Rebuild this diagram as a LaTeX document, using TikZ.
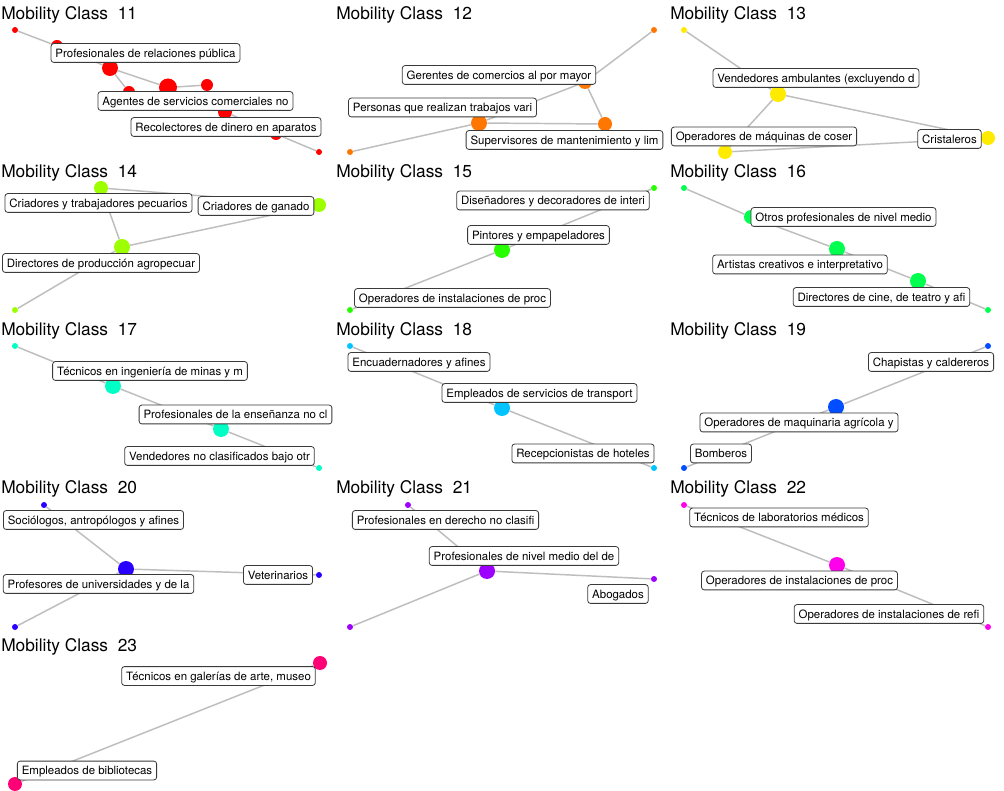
\documentclass[tikz,border=0pt]{standalone}
\usepackage{fontspec}
\setmainfont{TeX Gyre Heros}
\definecolor{c11}{HTML}{FF0000}
\definecolor{c12}{HTML}{FF7600}
\definecolor{c13}{HTML}{FFEB00}
\definecolor{c14}{HTML}{9DFF00}
\definecolor{c15}{HTML}{27FF00}
\definecolor{c16}{HTML}{00FF4E}
\definecolor{c17}{HTML}{00FFC4}
\definecolor{c18}{HTML}{00C4FF}
\definecolor{c19}{HTML}{004EFF}
\definecolor{c20}{HTML}{2700FF}
\definecolor{c21}{HTML}{9D00FF}
\definecolor{c22}{HTML}{FF00EB}
\definecolor{c23}{HTML}{FF0076}
\definecolor{edgec}{HTML}{BEBEBE}
\definecolor{lblb}{HTML}{3A3A3A}
\tikzset{
  dot/.style={circle, fill=#1, draw=none, inner sep=0pt},
  s3/.style={minimum size=4.5pt},
  s6/.style={minimum size=9pt},
  s7/.style={minimum size=10.5pt},
  s8/.style={minimum size=12pt},
  s9/.style={minimum size=13.5pt},
  lnk/.style={draw=edgec, line width=1.1pt},
  lbl/.style={draw=lblb, fill=white, rounded corners=2pt, line width=0.6pt,
    font=\fontsize{8.6}{10}\selectfont, text height=7.4pt, text depth=0.7pt,
    inner xsep=3.3pt, inner ysep=3pt},
  ttl/.style={anchor=base west, inner sep=0pt, font=\fontsize{13}{15}\selectfont}
}
\begin{document}
\begin{tikzpicture}[x=0.75pt,y=-0.75pt]
\useasboundingbox (0,0) rectangle (1004,791);
\fill[white] (0,0) rectangle (1004,791);
% titles
\node[ttl] (t11) at (1,20) {Mobility Class\ \ 11};
\node[ttl] (t12) at (336,20) {Mobility Class\ \ 12};
\node[ttl] (t13) at (670,20) {Mobility Class\ \ 13};
\node[ttl] (t14) at (1,178) {Mobility Class\ \ 14};
\node[ttl] (t15) at (336,178) {Mobility Class\ \ 15};
\node[ttl] (t16) at (670,178) {Mobility Class\ \ 16};
\node[ttl] (t17) at (1,336) {Mobility Class\ \ 17};
\node[ttl] (t18) at (336,336) {Mobility Class\ \ 18};
\node[ttl] (t19) at (670,336) {Mobility Class\ \ 19};
\node[ttl] (t20) at (1,494) {Mobility Class\ \ 20};
\node[ttl] (t21) at (336,494) {Mobility Class\ \ 21};
\node[ttl] (t22) at (670,494) {Mobility Class\ \ 22};
\node[ttl] (t23) at (1,652) {Mobility Class\ \ 23};
% ---- dots
% 11
\node[dot=c11,s3] (a1) at (15,30) {};
\node[dot=c11,s6] (a2) at (57,46) {};
\node[dot=c11,s8] (a3) at (110,68) {};
\node[dot=c11,s6] (a4) at (129,92) {};
\node[dot=c11,s9] (a5) at (168,87.5) {};
\node[dot=c11,s6] (a6) at (207,85) {};
\node[dot=c11,s7] (a7) at (225,112) {};
\node[dot=c11,s6] (a8) at (276,134) {};
\node[dot=c11,s3] (a9) at (319,152) {};
% 12
\node[dot=c12,s3] (b1) at (654,30) {};
\node[dot=c12,s7] (b2) at (585,82) {};
\node[dot=c12,s8] (b3) at (479,123) {};
\node[dot=c12,s7] (b4) at (605,124) {};
\node[dot=c12,s3] (b5) at (350,152) {};
% 13
\node[dot=c13,s3] (c1) at (684,30) {};
\node[dot=c13,s8] (c2) at (778,94) {};
\node[dot=c13,s7] (c3) at (725,152) {};
\node[dot=c13,s7] (c4) at (988,138) {};
% 14
\node[dot=c14,s7] (d1) at (101,188) {};
\node[dot=c14,s7] (d2) at (319,205) {};
\node[dot=c14,s8] (d3) at (122,247) {};
\node[dot=c14,s3] (d4) at (15,310) {};
% 15
\node[dot=c15,s3] (e1) at (654,188) {};
\node[dot=c15,s8] (e2) at (502,250) {};
\node[dot=c15,s3] (e3) at (350,310) {};
% 16
\node[dot=c16,s3] (f1) at (684,188) {};
\node[dot=c16,s7] (f2) at (751,217) {};
\node[dot=c16,s8] (f3) at (837,249) {};
\node[dot=c16,s8] (f4) at (918,281) {};
\node[dot=c16,s3] (f5) at (988,310) {};
% 17
\node[dot=c17,s3] (g1) at (15,346) {};
\node[dot=c17,s8] (g2) at (113,386) {};
\node[dot=c17,s8] (g3) at (221,429) {};
\node[dot=c17,s3] (g4) at (319,468) {};
% 18
\node[dot=c18,s3] (h1) at (350,346) {};
\node[dot=c18,s8] (h2) at (502,408) {};
\node[dot=c18,s3] (h3) at (654,468) {};
% 19
\node[dot=c19,s3] (i1) at (988,346) {};
\node[dot=c19,s8] (i2) at (836,407) {};
\node[dot=c19,s3] (i3) at (684,468) {};
% 20
\node[dot=c20,s3] (j1) at (44,505) {};
\node[dot=c20,s8] (j2) at (126,569) {};
\node[dot=c20,s3] (j3) at (319,575) {};
\node[dot=c20,s3] (j4) at (15,627) {};
% 21
\node[dot=c21,s3] (k1) at (408,505) {};
\node[dot=c21,s8] (k2) at (487,571) {};
\node[dot=c21,s3] (k3) at (654,579) {};
\node[dot=c21,s3] (k4) at (350,627) {};
% 22
\node[dot=c22,s3] (m1) at (684,505) {};
\node[dot=c22,s8] (m2) at (837,565) {};
\node[dot=c22,s3] (m3) at (988,627) {};
% 23
\node[dot=c23,s7] (n1) at (320,663) {};
\node[dot=c23,s7] (n2) at (15,784) {};
% ---- edges
\draw[lnk] (a1) -- (a2);
\draw[lnk] (a2) -- (a3);
\draw[lnk] (a3) -- (a5);
\draw[lnk] (a5) -- (a6);
\draw[lnk] (a3) -- (a4);
\draw[lnk] (a5) -- (a7);
\draw[lnk] (a7) -- (a8);
\draw[lnk] (a8) -- (a9);
\draw[lnk] (b1) -- (b2);
\draw[lnk] (b2) -- (b4);
\draw[lnk] (b2) -- (b3);
\draw[lnk] (b3) -- (b4);
\draw[lnk] (b3) -- (b5);
\draw[lnk] (c1) -- (c2);
\draw[lnk] (c2) -- (c3);
\draw[lnk] (c2) -- (c4);
\draw[lnk] (c3) -- (c4);
\draw[lnk] (d1) -- (d2);
\draw[lnk] (d1) -- (d3);
\draw[lnk] (d3) -- (d2);
\draw[lnk] (d3) -- (d4);
\draw[lnk] (e1) -- (e2);
\draw[lnk] (e2) -- (e3);
\draw[lnk] (f1) -- (f2);
\draw[lnk] (f2) -- (f3);
\draw[lnk] (f3) -- (f4);
\draw[lnk] (f4) -- (f5);
\draw[lnk] (g1) -- (g2);
\draw[lnk] (g2) -- (g3);
\draw[lnk] (g3) -- (g4);
\draw[lnk] (h1) -- (h2);
\draw[lnk] (h2) -- (h3);
\draw[lnk] (i1) -- (i2);
\draw[lnk] (i2) -- (i3);
\draw[lnk] (j1) -- (j2);
\draw[lnk] (j2) -- (j3);
\draw[lnk] (j2) -- (j4);
\draw[lnk] (k1) -- (k2);
\draw[lnk] (k2) -- (k3);
\draw[lnk] (k2) -- (k4);
\draw[lnk] (m1) -- (m2);
\draw[lnk] (m2) -- (m3);
\draw[lnk] (n1) -- (n2);
% ---- labels
\node[lbl] (la1) at (145.5,53) {Profesionales de relaciones pública};
\node[lbl] (la2) at (195.5,101) {Agentes de servicios comerciales no};
\node[lbl] (la3) at (226,127) {Recolectores de dinero en aparatos};
\node[lbl] (lb1) at (499,75) {Gerentes de comercios al por mayor};
\node[lbl] (lb2) at (442.5,107.5) {Personas que realizan trabajos vari};
\node[lbl] (lb3) at (564.5,140) {Supervisores de mantenimiento y lim};
\node[lbl] (lc1) at (816,78) {Vendedores ambulantes (excluyendo d};
\node[lbl] (lc2) at (764,136.5) {Operadores de máquinas de coser};
\node[lbl] (lc3) at (949.5,139) {Cristaleros};
\node[lbl] (ld1) at (98.5,203) {Criadores y trabajadores pecuarios};
\node[lbl] (ld2) at (256,206) {Criadores de ganado};
\node[lbl] (ld3) at (101,263) {Directores de producción agropecuar};
\node[lbl] (le1) at (553,200.5) {Diseñadores y decoradores de interi};
\node[lbl] (le2) at (538.5,235) {Pintores y empapeladores};
\node[lbl] (le3) at (452.5,298) {Operadores de instalaciones de proc};
\node[lbl] (lf1) at (843.5,217) {Otros profesionales de nivel medio};
\node[lbl] (lf2) at (800,264.5) {Artistas creativos e interpretativo};
\node[lbl] (lf3) at (881.5,297) {Directores de cine, de teatro y afi};
\node[lbl] (lg1) at (150,371) {Técnicos en ingeniería de minas y m};
\node[lbl] (lg2) at (235.5,414.5) {Profesionales de la enseñanza no cl};
\node[lbl] (lg3) at (219.5,456) {Vendedores no clasificados bajo otr};
\node[lbl] (lh1) at (419,362) {Encuadernadores y afines};
\node[lbl] (lh2) at (539.5,393) {Empleados de servicios de transport};
\node[lbl] (lh3) at (583,453.5) {Recepcionistas de hoteles};
\node[lbl] (li1) at (931,362) {Chapistas y caldereros};
\node[lbl] (li2) at (799,422.5) {Operadores de maquinaria agrícola y};
\node[lbl] (li3) at (721,453.5) {Bomberos};
\node[lbl] (lj1) at (93.5,520) {Sociólogos, antropólogos y afines};
\node[lbl] (lj2) at (278,575) {Veterinarios};
\node[lbl] (lj3) at (98.5,584) {Profesores de universidades y de la};
\node[lbl] (lk1) at (445.5,520) {Profesionales en derecho no clasifi};
\node[lbl] (lk2) at (524,556) {Profesionales de nivel medio del de};
\node[lbl] (lk3) at (618,594) {Abogados};
\node[lbl] (lm1) at (779,517.5) {Técnicos de laboratorios médicos};
\node[lbl] (lm2) at (799.5,580.5) {Operadores de instalaciones de proc};
\node[lbl] (lm3) at (889,614) {Operadores de instalaciones de refi};
\node[lbl] (ln1) at (218.5,676) {Técnicos en galerías de arte, museo};
\node[lbl] (ln2) at (87,770.5) {Empleados de bibliotecas};
\end{tikzpicture}
\end{document}
